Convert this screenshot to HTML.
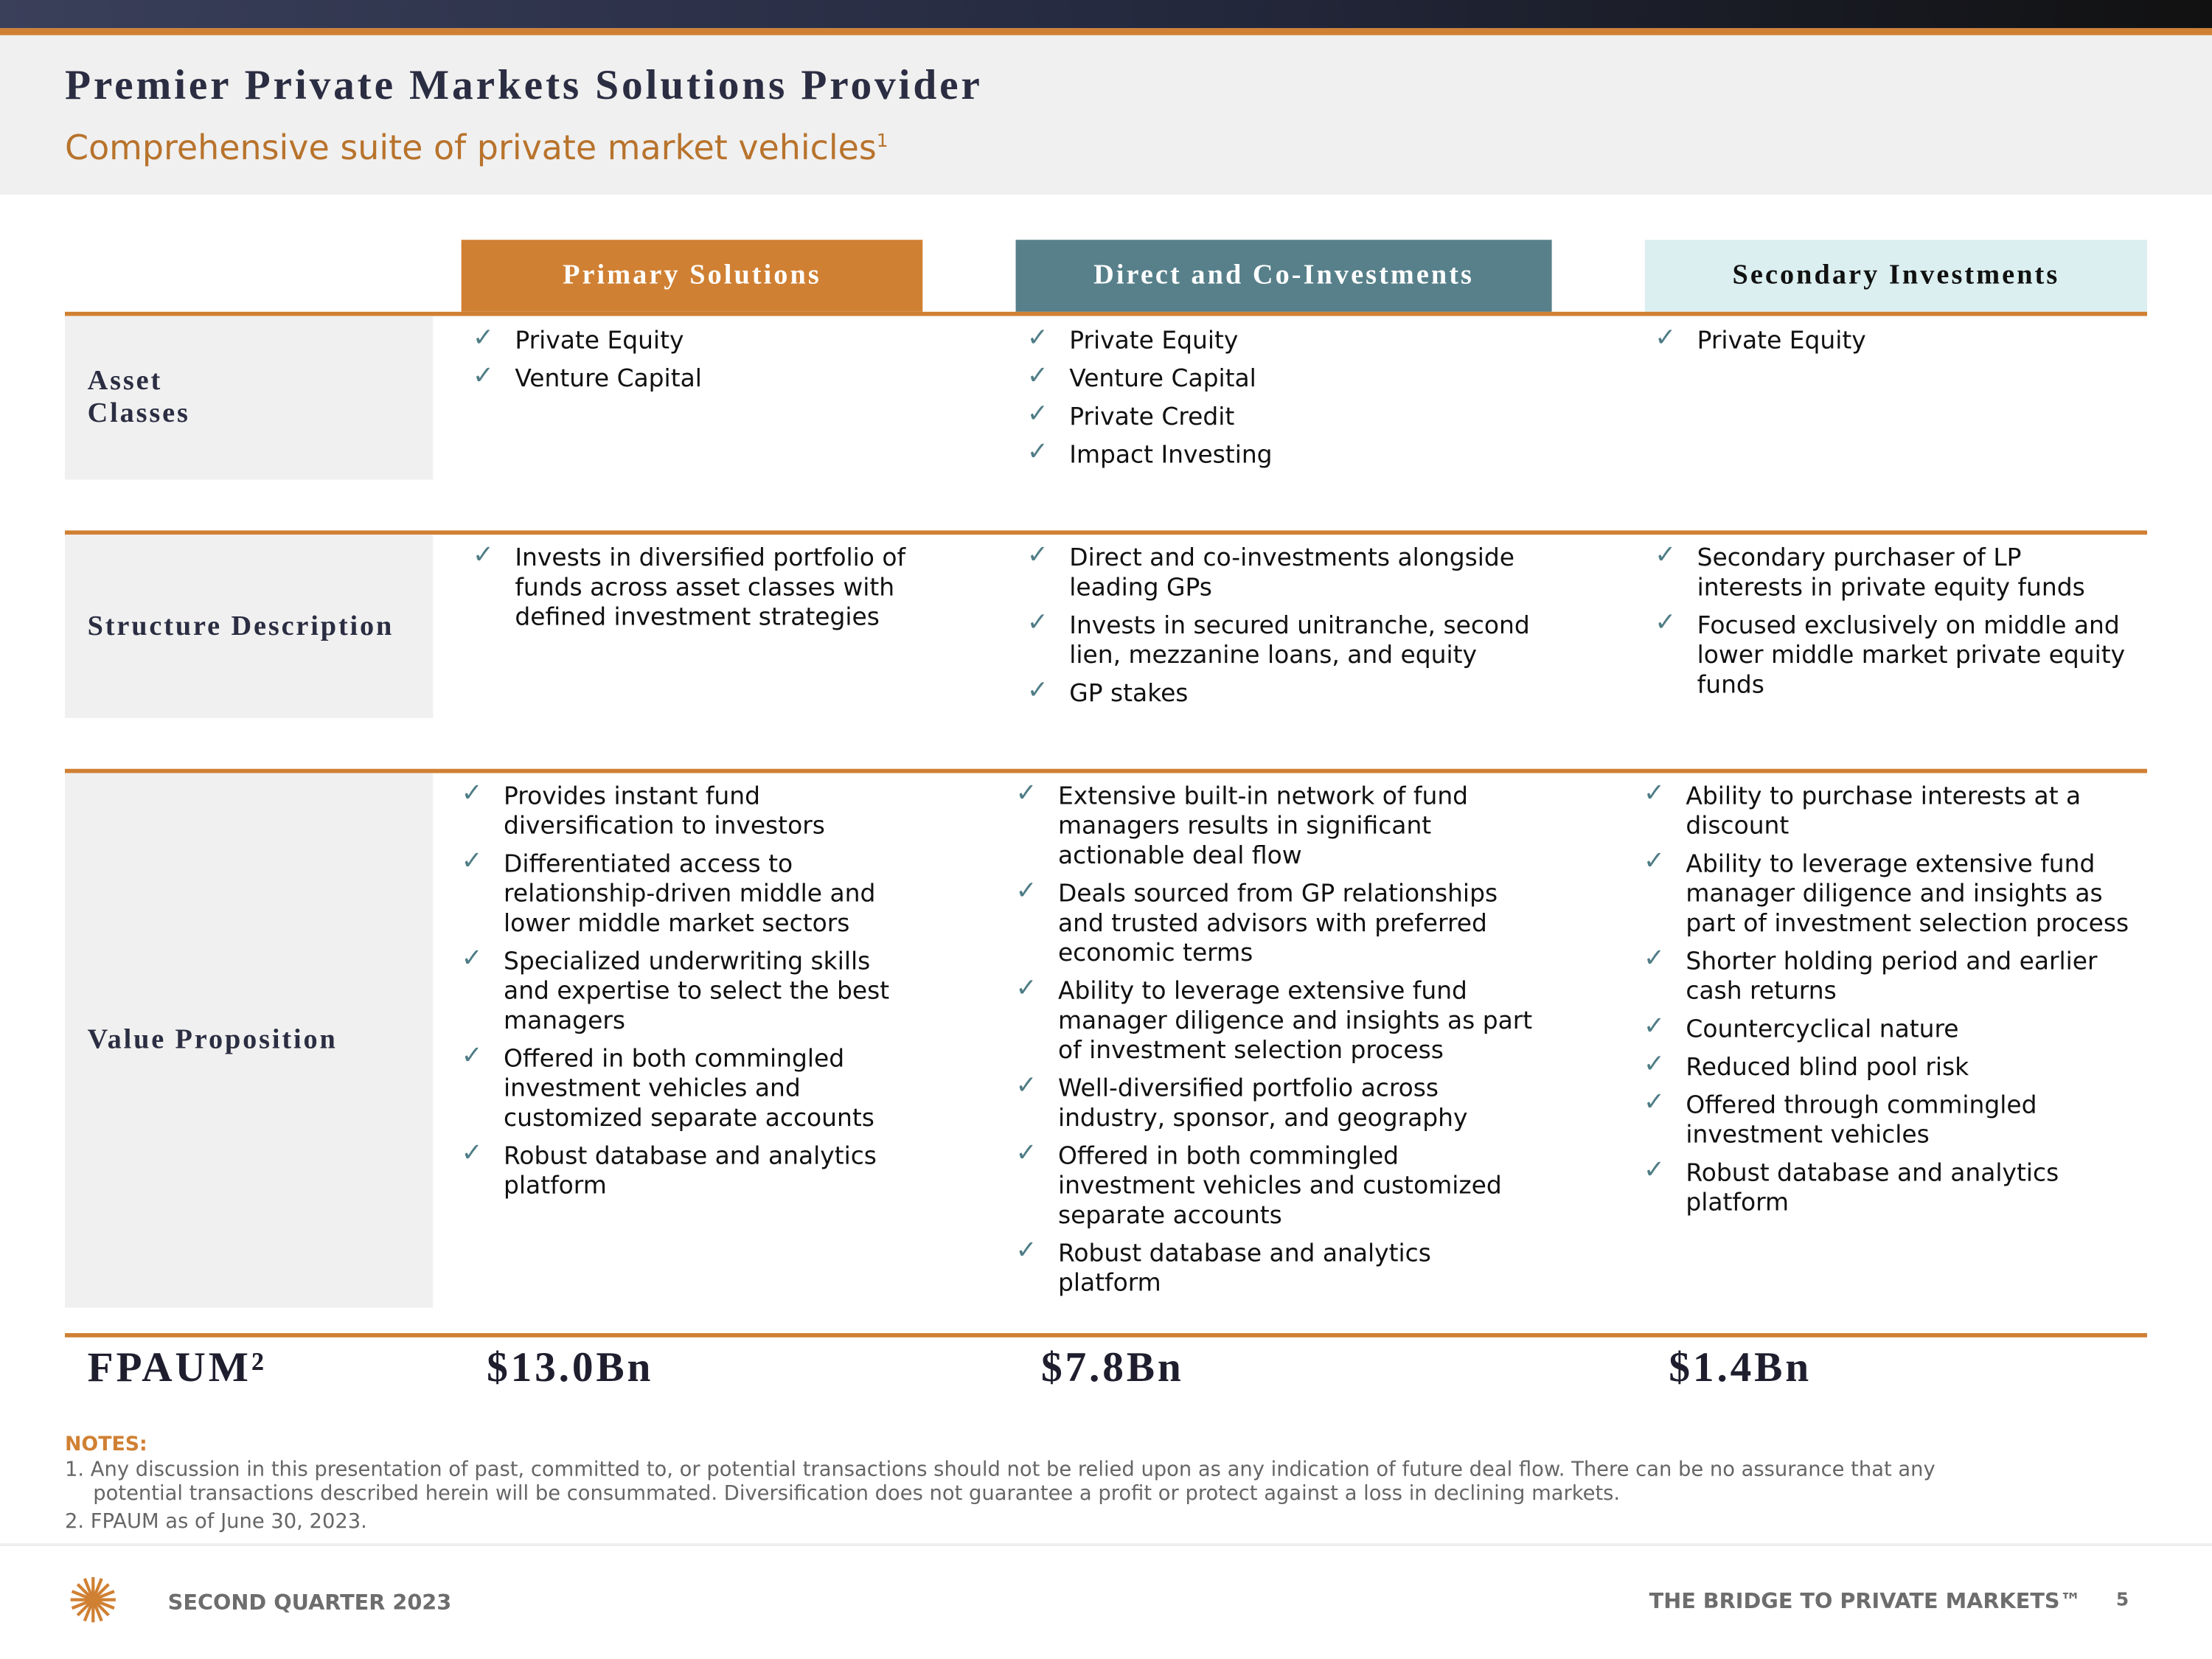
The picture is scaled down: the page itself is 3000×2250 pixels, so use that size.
<!DOCTYPE html>
<html><head><meta charset="utf-8"><style>
html,body{margin:0;padding:0;width:3000px;height:2250px;overflow:hidden;background:#fff}
#s{position:absolute;left:0;top:0;width:1568px;height:1176px;transform:scale(1.91327);transform-origin:0 0;font-family:"DejaVu Sans","Liberation Sans",sans-serif;color:#111}
.a{position:absolute}
.serif{font-family:"Liberation Serif","DejaVu Serif",serif;font-weight:bold}
.hdr{position:absolute;top:170px;height:51px;display:flex;align-items:center;justify-content:center;font-size:20px;letter-spacing:1.6px}
.line{position:absolute;left:46px;width:1476px;height:3px;background:#d08033}
.lab{position:absolute;left:46px;width:261px;background:#f0f0f0;font-size:20px;letter-spacing:1.5px;color:#2b2d42;display:flex;align-items:center;padding-left:16px;box-sizing:border-box}
ul{list-style:none;margin:0;padding:0;position:absolute;font-size:17.2px;line-height:21px}
li{position:relative;padding-left:22px;margin-bottom:6px}
li:before{content:"✓";position:absolute;left:-8px;top:-3px;color:#4f7d86;font-size:18px}
.fp{position:absolute;top:953px;font-size:30px;letter-spacing:2px;color:#1e1e2e}
</style></head><body>
<div id="s">
<div class="a" style="left:0;top:0;width:1568px;height:20px;background:linear-gradient(90deg,#3a3f5a,#252a40 50%,#111 100%)"></div>
<div class="a" style="left:0;top:20px;width:1568px;height:5px;background:#d08033"></div>
<div class="a" style="left:0;top:25px;width:1568px;height:113px;background:#f0f0f0"></div>
<div class="a serif" style="left:46px;top:44px;font-size:30px;letter-spacing:2px;color:#2b2d42">Premier Private Markets Solutions Provider</div>
<div class="a" style="left:46px;top:91px;font-size:24px;color:#b8732c">Comprehensive suite of private market vehicles<sup style="font-size:13px">1</sup></div>

<div class="hdr serif" style="left:327px;width:327px;background:#d08033;color:#fff">Primary Solutions</div>
<div class="hdr serif" style="left:720px;width:380px;background:#57808a;color:#fff">Direct and Co-Investments</div>
<div class="hdr serif" style="left:1166px;width:356px;background:#dbeef0;color:#111">Secondary Investments</div>

<div class="line" style="top:221px"></div>
<div class="line" style="top:376px"></div>
<div class="line" style="top:545px"></div>
<div class="line" style="top:945px"></div>

<div class="lab serif" style="top:224px;height:116px">Asset<br>Classes</div>
<div class="lab serif" style="top:379px;height:130px">Structure Description</div>
<div class="lab serif" style="top:548px;height:379px">Value Proposition</div>

<ul style="left:343px;top:232px;width:300px"><li>Private Equity</li><li>Venture Capital</li></ul>
<ul style="left:736px;top:232px;width:360px"><li>Private Equity</li><li>Venture Capital</li><li>Private Credit</li><li>Impact Investing</li></ul>
<ul style="left:1181px;top:232px;width:340px"><li>Private Equity</li></ul>

<ul style="left:343px;top:386px;width:310px"><li>Invests in diversified portfolio of funds across asset classes with defined investment strategies</li></ul>
<ul style="left:736px;top:386px;width:360px"><li>Direct and co-investments alongside leading GPs</li><li>Invests in secured unitranche, second lien, mezzanine loans, and equity</li><li>GP stakes</li></ul>
<ul style="left:1181px;top:386px;width:345px;white-space:nowrap"><li>Secondary purchaser of LP<br>interests in private equity funds</li><li>Focused exclusively on middle and<br>lower middle market private equity<br>funds</li></ul>

<ul style="left:335px;top:555px;width:310px"><li>Provides instant fund diversification to investors</li><li>Differentiated access to relationship-driven middle and lower middle market sectors</li><li>Specialized underwriting skills and expertise to select the best managers</li><li>Offered in both commingled investment vehicles and customized separate accounts</li><li>Robust database and analytics platform</li></ul>
<ul style="left:728px;top:555px;width:360px"><li>Extensive built-in network of fund managers results in significant actionable deal flow</li><li>Deals sourced from GP relationships and trusted advisors with preferred economic terms</li><li>Ability to leverage extensive fund manager diligence and insights as part of investment selection process</li><li>Well-diversified portfolio across industry, sponsor, and geography</li><li>Offered in both commingled investment vehicles and customized separate accounts</li><li>Robust database and analytics platform</li></ul>
<ul style="left:1173px;top:555px;width:350px"><li>Ability to purchase interests at a discount</li><li>Ability to leverage extensive fund manager diligence and insights as part of investment selection process</li><li>Shorter holding period and earlier cash returns</li><li>Countercyclical nature</li><li>Reduced blind pool risk</li><li>Offered through commingled investment vehicles</li><li>Robust database and analytics platform</li></ul>

<div class="fp serif" style="left:62px">FPAUM²</div>
<div class="fp serif" style="left:345px">$13.0Bn</div>
<div class="fp serif" style="left:738px">$7.8Bn</div>
<div class="fp serif" style="left:1183px">$1.4Bn</div>

<div class="a" style="left:46px;top:1016px;font-size:14px;font-weight:bold;color:#d08033">NOTES:</div>
<div class="a" style="left:46px;top:1034px;width:1480px;font-size:14.3px;line-height:17px;color:#666;padding-left:20px;text-indent:-20px;white-space:nowrap">1.&nbsp;Any discussion in this presentation of past, committed to, or potential transactions should not be relied upon as any indication of future deal flow. There can be no assurance that any<br>potential transactions described herein will be consummated. Diversification does not guarantee a profit or protect against a loss in declining markets.</div>
<div class="a" style="left:46px;top:1071px;font-size:14.3px;color:#666">2.&nbsp;FPAUM as of June 30, 2023.</div>

<div class="a" style="left:0;top:1094px;width:1568px;height:2px;background:#eee"></div>
<svg class="a" style="left:48px;top:1116px" width="36" height="36" viewBox="-18 -18 36 36">
<g stroke="#d08033" stroke-width="2.2"><line x1="-16" y1="0" x2="16" y2="0"/><line x1="0" y1="-16" x2="0" y2="16"/><line x1="-11" y1="-11" x2="11" y2="11"/><line x1="-11" y1="11" x2="11" y2="-11"/><line x1="-15" y1="-6" x2="15" y2="6"/><line x1="-15" y1="6" x2="15" y2="-6"/><line x1="-6" y1="-15" x2="6" y2="15"/><line x1="6" y1="-15" x2="-6" y2="15"/></g></svg>
<div class="a" style="left:119px;top:1127px;font-size:15px;font-weight:bold;color:#6d6d6d">SECOND QUARTER 2023</div>
<div class="a" style="left:1169px;top:1126px;font-size:15px;font-weight:bold;color:#6d6d6d">THE BRIDGE TO PRIVATE MARKETS™</div>
<div class="a" style="left:1500px;top:1127px;font-size:13px;font-weight:bold;color:#6d6d6d">5</div>
</div>
</body></html>
